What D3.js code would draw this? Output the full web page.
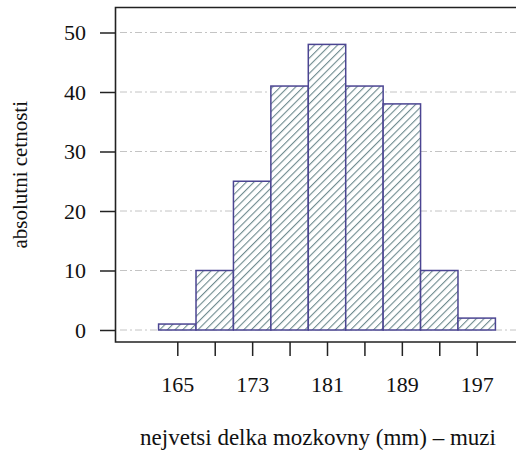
<!DOCTYPE html>
<html>
<head>
<meta charset="utf-8">
<script src="https://cdn.jsdelivr.net/npm/d3@7"></script>
<style>
  body { margin: 0; background: #fff; }
</style>
</head>
<body>
<svg id="chart" width="516" height="455"></svg>
<script>
// histogram bins (mm) and counts
const binEdges = [163, 167, 171, 175, 179, 183, 187, 191, 195, 199];
const counts = [1, 10, 25, 41, 48, 41, 38, 10, 2];
const xTicks = [165, 169, 173, 177, 181, 185, 189, 193, 197];
const xLabeled = [165, 173, 181, 189, 197];
const yTicks = [0, 10, 20, 30, 40, 50];

const serif = "'Liberation Serif', 'Times New Roman', serif";
const svg = d3.select('#chart').attr('font-family', serif);
const plotLeft = 115.5, plotTop = 7.5, plotBottom = 342, plotRight = 530;

const x = d3.scaleLinear().domain([165, 197]).range([177.3, 476.7]);
const y = d3.scaleLinear().domain([0, 50]).range([330, 32.5]);

// hatch pattern
const defs = svg.append('defs');
const pat = defs.append('pattern')
    .attr('id', 'hatch')
    .attr('patternUnits', 'userSpaceOnUse')
    .attr('width', 5.4).attr('height', 5.4)
    .attr('patternTransform', 'rotate(45)');
pat.append('rect').attr('width', 5.4).attr('height', 5.4).attr('fill', '#fff');
pat.append('line')
    .attr('x1', 0).attr('y1', 0).attr('x2', 0).attr('y2', 5.4)
    .attr('stroke', '#6d8a8e').attr('stroke-width', 2.2);

// grid lines
svg.append('g').selectAll('line')
    .data(yTicks)
    .enter().append('line')
    .attr('x1', 120).attr('x2', 516)
    .attr('y1', d => y(d)).attr('y2', d => y(d))
    .attr('stroke', '#c4c4c4')
    .attr('stroke-width', 1)
    .attr('stroke-dasharray', '7,3,2,3');

// bars
const bins = counts.map((c, i) => ({x0: binEdges[i], x1: binEdges[i + 1], n: c}));
svg.append('g').selectAll('rect')
    .data(bins)
    .enter().append('rect')
    .attr('x', d => x(d.x0))
    .attr('y', d => y(d.n))
    .attr('width', d => x(d.x1) - x(d.x0))
    .attr('height', d => y(0) - y(d.n))
    .attr('fill', 'url(#hatch)')
    .attr('stroke', '#4b4592')
    .attr('stroke-width', 1.5);

// frame (left, top, bottom)
svg.append('path')
    .attr('d', `M${plotRight},${plotTop}H${plotLeft}V${plotBottom}H${plotRight}`)
    .attr('fill', 'none')
    .attr('stroke', '#222')
    .attr('stroke-width', 1.6);

// x axis
const xAxis = svg.append('g')
    .attr('transform', `translate(0,${plotBottom})`)
    .call(d3.axisBottom(x)
        .tickValues(xTicks)
        .tickSize(14)
        .tickPadding(20)
        .tickFormat(d => xLabeled.includes(d) ? d : ''))
    .attr('font-family', serif)
    .attr('font-size', 22);
xAxis.select('.domain').remove();
xAxis.selectAll('line').attr('stroke', '#222').attr('stroke-width', 1.5);
xAxis.selectAll('text').attr('fill', '#111');

// y axis
const yAxis = svg.append('g')
    .attr('transform', `translate(${plotLeft},0)`)
    .call(d3.axisLeft(y)
        .tickValues(yTicks)
        .tickSize(15.5)
        .tickPadding(14))
    .attr('font-family', serif)
    .attr('font-size', 22);
yAxis.select('.domain').remove();
yAxis.selectAll('line').attr('stroke', '#222').attr('stroke-width', 1.5);
yAxis.selectAll('text').attr('fill', '#111');

// axis titles
svg.append('text')
    .attr('x', 318).attr('y', 445)
    .attr('text-anchor', 'middle')
    .attr('font-family', serif)
    .attr('font-size', 23)
    .attr('fill', '#111')
    .text('nejvetsi delka mozkovny (mm) – muzi');

svg.append('text')
    .attr('transform', `translate(27,${(plotTop + plotBottom) / 2}) rotate(-90)`)
    .attr('text-anchor', 'middle')
    .attr('font-family', serif)
    .attr('font-size', 21)
    .attr('fill', '#111')
    .text('absolutni cetnosti');
</script>
</body>
</html>
